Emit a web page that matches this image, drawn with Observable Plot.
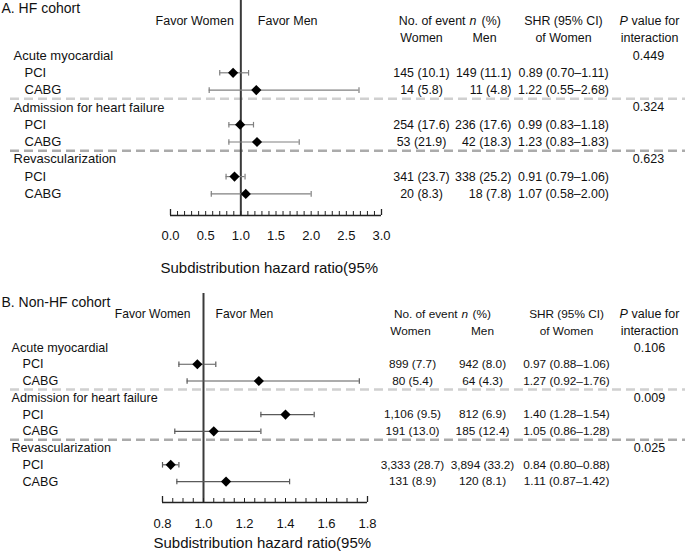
<!DOCTYPE html>
<html>
<head>
<meta charset="utf-8">
<script src="https://cdn.jsdelivr.net/npm/d3@7"></script>
<script src="https://cdn.jsdelivr.net/npm/@observablehq/plot@0.6"></script>
<style>
  body { margin: 0; background: #fff; }
  #chart { width: 685px; }
  #chart svg { display: block; }
</style>
</head>
<body>
<div id="chart"></div>
<script>
// ---------- data ----------
const groups = ["Acute myocardial", "Admission for heart failure", "Revascularization"];
const procedures = ["PCI", "CABG"];

// A. HF cohort
const hfTitle = "A. HF cohort";
const hfShr   = [0.89, 1.22, 0.99, 1.23, 0.91, 1.07];
const hfLo    = [0.70, 0.55, 0.83, 0.83, 0.79, 0.58];
const hfHi    = [1.11, 2.68, 1.18, 1.83, 1.06, 2.00];
const hfWomen = ["145 (10.1)", "14 (5.8)", "254 (17.6)", "53 (21.9)", "341 (23.7)", "20 (8.3)"];
const hfMen   = ["149 (11.1)", "11 (4.8)", "236 (17.6)", "42 (18.3)", "338 (25.2)", "18 (7.8)"];
const hfP     = ["0.449", "0.324", "0.623"];
const hfTickLabels = [0.0, 0.5, 1.0, 1.5, 2.0, 2.5, 3.0];
const hfDomain = [0, 3];

// B. Non-HF cohort
const nhfTitle = "B. Non-HF cohort";
const nhfShr   = [0.97, 1.27, 1.40, 1.05, 0.84, 1.11];
const nhfLo    = [0.88, 0.92, 1.28, 0.86, 0.80, 0.87];
const nhfHi    = [1.06, 1.76, 1.54, 1.28, 0.88, 1.42];
const nhfWomen = ["899 (7.7)", "80 (5.4)", "1,106 (9.5)", "191 (13.0)", "3,333 (28.7)", "131 (8.9)"];
const nhfMen   = ["942 (8.0)", "64 (4.3)", "812 (6.9)", "185 (12.4)", "3,894 (33.2)", "120 (8.1)"];
const nhfP     = ["0.106", "0.009", "0.025"];
const nhfTickLabels = [0.8, 1.0, 1.2, 1.4, 1.6, 1.8];
const nhfDomain = [0.8, 1.8];

const refValue = 1;
const axisTitle = "Subdistribution hazard ratio(95%";
const favorWomen = "Favor Women";
const favorMen = "Favor Men";

// ---------- helpers ----------
const f2 = d3.format(".2f");
const f1 = d3.format(".1f");

const capSymbol = {
  draw(ctx, size) {
    const h = Math.sqrt(size / Math.PI);
    ctx.moveTo(0, -h);
    ctx.lineTo(0, h);
  }
};

function buildRows(shr, lo, hi, women, men, pvals) {
  const groupRows = [], procRows = [];
  groups.forEach((g, gi) => {
    groupRows.push({label: g, row: gi * 3, p: pvals[gi]});
    procedures.forEach((p, pi) => {
      const k = gi * 2 + pi;
      procRows.push({
        label: p, row: gi * 3 + pi + 1,
        shr: shr[k], lo: lo[k], hi: hi[k],
        women: women[k], men: men[k],
        ci: `${f2(shr[k])} (${f2(lo[k])}–${f2(hi[k])})`
      });
    });
  });
  return {groupRows, procRows};
}

function panel(cfg) {
  const {groupRows, procRows} = buildRows(cfg.shr, cfg.lo, cfg.hi, cfg.women, cfg.men, cfg.p);
  const frameH = cfg.height - cfg.marginTop - cfg.marginBottom;
  const seps = groups.slice(1).map((_, i) => (i + 1) * 3 - 0.5);
  const sepColors = ["#d0d0d0", "#ababab"];
  const [d0, d1] = cfg.domain;
  const ends = [d0, d1];
  const minor = d3.range(0, Math.round((d1 - d0) / cfg.minorStep) + 1).map(i => d0 + i * cfg.minorStep);
  const c = cfg.cols;
  const yDom = [0, 9.25];
  const ts = cfg.tableSize, ls = cfg.labelSize;

  return Plot.plot({
    width: 685,
    height: cfg.height,
    marginLeft: 0, marginRight: 0,
    marginTop: cfg.marginTop, marginBottom: cfg.marginBottom,
    style: {fontFamily: "'Liberation Sans', Arial, sans-serif", fontSize: "13px", color: "#111", background: "#fff", overflow: "visible"},
    x: {domain: cfg.domain, range: cfg.xRange, axis: null},
    y: {type: "linear", domain: yDom, range: cfg.yRange, axis: null},
    marks: [
      // group separators
      ...seps.map((s, i) => Plot.ruleY([s], {stroke: sepColors[i], strokeWidth: 2.5, strokeDasharray: "9,5", insetLeft: 10})),
      // reference line
      Plot.ruleX([refValue], {stroke: "#3a3a3a", strokeWidth: 2}),
      // axis line and ticks
      Plot.ruleY([yDom[1]], {x1: d0, x2: d1, stroke: "#222", strokeWidth: 1.3}),
      Plot.tickX(minor, {x: d => d, insetTop: frameH - 4, stroke: "#222", strokeWidth: 1}),
      Plot.tickX(ends, {x: d => d, insetTop: frameH - 6, stroke: "#222", strokeWidth: 1.3}),
      Plot.text(cfg.tickLabels, {x: d => d, text: d => f1(d), frameAnchor: "bottom", lineAnchor: "middle", dy: cfg.tickDy, fontSize: 13}),
      Plot.text([axisTitle], {frameAnchor: "bottom-left", textAnchor: "start", lineAnchor: "middle", dx: cfg.titleX, dy: cfg.titleDy, fontSize: 15}),
      // panel title
      Plot.text([cfg.title], {frameAnchor: "top-left", textAnchor: "start", lineAnchor: "middle", dx: 1, dy: cfg.panelTitleDy, fontSize: 14}),
      // favor labels
      Plot.text([favorWomen], {x: () => refValue, y: () => -2, textAnchor: "end", dx: cfg.favorWDx, fontSize: ls - 0.5}),
      Plot.text([favorMen], {x: () => refValue, y: () => -2, textAnchor: "start", dx: cfg.favorMDx, fontSize: ls - 0.5}),
      // confidence intervals
      Plot.ruleY(procRows, {y: "row", x1: "lo", x2: "hi", stroke: cfg.ciColor, strokeWidth: 1.2}),
      Plot.dot(procRows, {x: "lo", y: "row", symbol: capSymbol, r: 2.8, stroke: cfg.ciColor, strokeWidth: 1.2}),
      Plot.dot(procRows, {x: "hi", y: "row", symbol: capSymbol, r: 2.8, stroke: cfg.ciColor, strokeWidth: 1.2}),
      Plot.dot(procRows, {x: "shr", y: "row", symbol: "diamond2", r: 4.6, fill: "#000", stroke: "none"}),
      // row labels
      Plot.text(groupRows, {y: "row", text: "label", frameAnchor: "left", textAnchor: "start", dx: cfg.groupX, fontSize: ls}),
      Plot.text(procRows, {y: "row", text: "label", frameAnchor: "left", textAnchor: "start", dx: cfg.groupX + 11, fontSize: ls}),
      // table headers
      Plot.text(["No. of event"], {y: () => -2, frameAnchor: "left", textAnchor: "end", dx: c.noEnd, fontSize: ts}),
      Plot.text(["n"], {y: () => -2, frameAnchor: "left", textAnchor: "start", dx: c.nStart, fontStyle: "italic", fontSize: ts}),
      Plot.text(["(%)"], {y: () => -2, frameAnchor: "left", textAnchor: "start", dx: c.pctStart, fontSize: ts}),
      Plot.text(["Women"], {y: () => -1, frameAnchor: "left", textAnchor: "middle", dx: c.womenHead, fontSize: ts}),
      Plot.text(["Men"], {y: () => -1, frameAnchor: "left", textAnchor: "middle", dx: c.menHead, fontSize: ts}),
      Plot.text(["SHR (95% CI)"], {y: () => -2, frameAnchor: "left", textAnchor: "middle", dx: c.shr, fontSize: ts}),
      Plot.text(["of Women"], {y: () => -1, frameAnchor: "left", textAnchor: "middle", dx: c.shr, fontSize: ts}),
      Plot.text(["P"], {y: () => -2, frameAnchor: "left", textAnchor: "start", dx: 619, fontStyle: "italic", fontSize: 12.5}),
      Plot.text(["value for"], {y: () => -2, frameAnchor: "left", textAnchor: "start", dx: 631, fontSize: 12.5}),
      Plot.text(["interaction"], {y: () => -1, frameAnchor: "left", textAnchor: "middle", dx: 649, fontSize: 12.5}),
      // table values
      Plot.text(procRows, {y: "row", text: "women", frameAnchor: "left", textAnchor: "middle", dx: c.women, fontSize: ts}),
      Plot.text(procRows, {y: "row", text: "men", frameAnchor: "left", textAnchor: c.menAnchor, dx: c.men, fontSize: ts}),
      Plot.text(procRows, {y: "row", text: "ci", frameAnchor: "left", textAnchor: "middle", dx: c.shr, fontSize: ts}),
      Plot.text(groupRows, {y: "row", text: "p", frameAnchor: "left", textAnchor: "middle", dx: c.p, fontSize: 12.5})
    ]
  });
}

const chart = document.getElementById("chart");

chart.appendChild(panel({
  title: hfTitle, shr: hfShr, lo: hfLo, hi: hfHi, women: hfWomen, men: hfMen, p: hfP,
  domain: hfDomain, tickLabels: hfTickLabels, minorStep: 0.1,
  height: 280, marginTop: 0, marginBottom: 65,
  xRange: [170, 381], yRange: [55, 215],
  tickDy: 20, titleX: 160, titleDy: 53, panelTitleDy: 8,
  favorWDx: -7, favorMDx: 17, ciColor: "#808080",
  labelSize: 13, tableSize: 12.4, groupX: 13,
  cols: {noEnd: 465, nStart: 469, pctStart: 481, womenHead: 421, menHead: 484,
         women: 421, men: 511, menAnchor: "end", shr: 563, p: 648}
}));

chart.appendChild(panel({
  title: nhfTitle, shr: nhfShr, lo: nhfLo, hi: nhfHi, women: nhfWomen, men: nhfMen, p: nhfP,
  domain: nhfDomain, tickLabels: nhfTickLabels, minorStep: 0.05,
  height: 271, marginTop: 13, marginBottom: 49,
  xRange: [162, 367], yRange: [67, 222],
  tickDy: 21, titleX: 153, titleDy: 41, panelTitleDy: 9,
  favorWDx: -13, favorMDx: 12, ciColor: "#5a5a5a",
  labelSize: 12.6, tableSize: 11.8, groupX: 11,
  cols: {noEnd: 457, nStart: 461, pctStart: 472, womenHead: 410, menHead: 482,
         women: 412, men: 482, menAnchor: "middle", shr: 566, p: 649}
}));
</script>
</body>
</html>
